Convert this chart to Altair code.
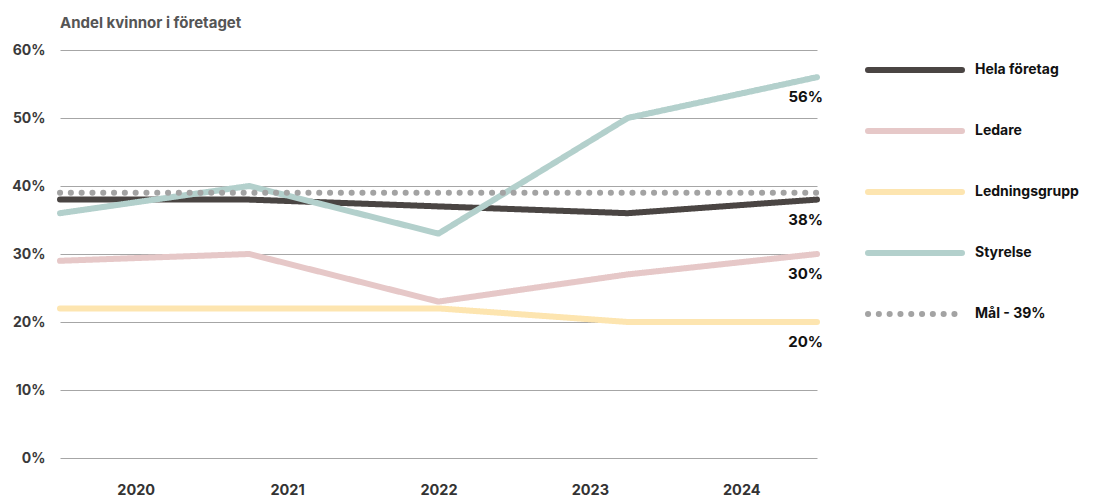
import altair as alt
import pandas as pd

FONT = "Inter"

years = ["2020", "2021", "2022", "2023", "2024"]
series = ["Hela företag", "Ledare", "Ledningsgrupp", "Styrelse", "Mål - 39%"]
hela = [38, 38, 37, 36, 38]
ledare = [29, 30, 23, 27, 30]
ledningsgrupp = [22, 22, 22, 20, 20]
styrelse = [36, 40, 33, 50, 56]
mal = [39, 39, 39, 39, 39]
colors = ["#4a4543", "#e6c8c8", "#fde5b0", "#b3d0cc", "#a3a3a3"]
dashes = [[1, 0], [1, 0], [1, 0], [1, 0], [0.1, 10.7]]
labelled = ["Hela företag", "Ledare", "Ledningsgrupp", "Styrelse"]

values = [hela, ledare, ledningsgrupp, styrelse, mal]
rows = []
for s, vals in zip(series, values):
    for i, v in enumerate(vals):
        rows.append({"serie": s, "i": i, "v": v, "year": years[i]})
df = pd.DataFrame(rows)
n = len(years)
df_end = df[(df["i"] == n - 1) & (df["serie"].isin(labelled))].copy()
df_end["lab"] = df_end["v"].astype(int).astype(str) + "%"
df_leg = pd.DataFrame({"serie": series})

tick_pos = [(k + 0.5) * (n - 1) / n for k in range(n)]
year_arr = "[" + ",".join("'" + y + "'" for y in years) + "]"
label_expr = f"{year_arr}[round(datum.value / {(n - 1) / n} - 0.5)]"

xenc = alt.X(
    "i:Q",
    scale=alt.Scale(domain=[0, n - 1], nice=False, zero=False),
    axis=alt.Axis(
        values=tick_pos, labelExpr=label_expr, grid=False, ticks=False, domain=False,
        title=None, labelPadding=25, labelFontSize=14.5, labelFontWeight="bold",
        labelColor="#333333", labelFont=FONT,
    ),
)
yenc = alt.Y(
    "v:Q",
    scale=alt.Scale(domain=[0, 60], nice=False),
    axis=alt.Axis(
        values=list(range(0, 61, 10)), labelExpr="datum.value + '%'", grid=True,
        gridColor="#a6a6a6", gridWidth=1, domain=False, ticks=False, title=None,
        labelPadding=15, labelFontSize=14, labelFontWeight="bold", labelColor="#3a3a3a",
        labelFont=FONT,
    ),
)
color_enc = alt.Color("serie:N", scale=alt.Scale(domain=series, range=colors), legend=None)
dash_enc = alt.StrokeDash("serie:N", scale=alt.Scale(domain=series, range=dashes), legend=None)

lines = alt.Chart(df).mark_line(strokeWidth=6, strokeCap="round", strokeJoin="round").encode(
    x=xenc, y=yenc, color=color_enc, strokeDash=dash_enc, order=alt.Order("i:Q"),
)

texts = alt.Chart(df_end).mark_text(
    align="right", baseline="middle", dx=6, dy=20, fontSize=15, fontWeight="bold",
    font=FONT, color="#111111",
).encode(x="i:Q", y="v:Q", text="lab:N")

# legend (custom, to keep round dotted symbol)
leg_y = alt.Y("serie:N", scale=alt.Scale(type="point", domain=series, range=[20, 264], padding=0), axis=None)
leg_sym = alt.Chart(df_leg).mark_rule(strokeWidth=6, strokeCap="round").encode(
    x=alt.value(808), x2=alt.value(902), y=leg_y, color=color_enc, strokeDash=dash_enc,
)
leg_txt = alt.Chart(df_leg).mark_text(
    align="left", baseline="middle", fontSize=14, fontWeight="bold", font=FONT, color="#111111",
).encode(x=alt.value(915), y=leg_y, text="serie:N")
legend = alt.layer(leg_sym, leg_txt)

chart = alt.layer(alt.layer(lines, texts), legend).resolve_scale(y="independent").properties(
    width=757,
    height=408,
    autosize=alt.AutoSizeParams(type="none"),
    padding={"left": 52, "top": 42, "right": 268, "bottom": 40},
    title=alt.Title(
        "Andel kvinnor i företaget", anchor="start", frame="group", fontSize=15,
        fontWeight="bold", color="#555555", font=FONT, offset=12,
    ),
).configure_view(stroke=None)

chart.save("out.html", embed_options={"renderer": "svg", "actions": False})
